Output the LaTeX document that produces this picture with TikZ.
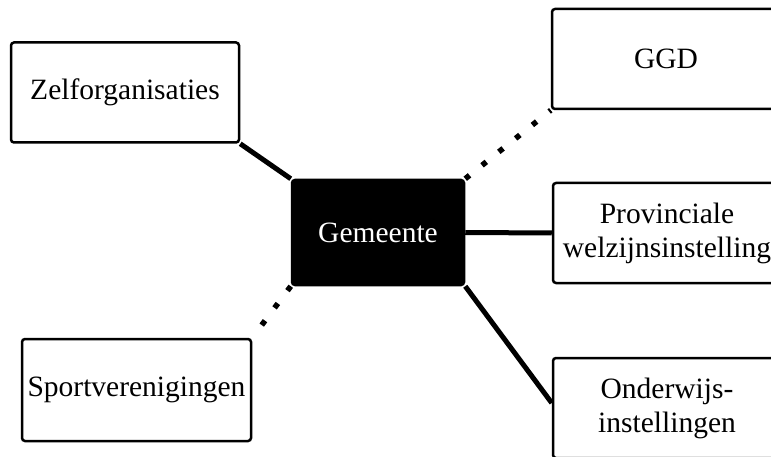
\documentclass[tikz,border=0pt]{standalone}
\usepackage{fontspec}
\setmainfont{Liberation Serif}
\usetikzlibrary{backgrounds}
\tikzset{
  box/.style={draw=black, line width=2.5pt, rounded corners=3pt, fill=white,
    minimum width=228pt, minimum height=100pt, align=center, inner sep=1pt,
    font=\fontsize{29.5}{34}\selectfont},
  hub/.style={box, fill=black, text=white, minimum width=172pt, minimum height=105pt},
  solidlink/.style={line width=5pt},
  dottedlink/.style={line width=5.5pt, dash pattern=on 5.5pt off 16pt}
}
\begin{document}
\begin{tikzpicture}[x=1pt, y=-1pt]
  \useasboundingbox (0,0) rectangle (771,457);
  \clip (0,0) rectangle (771,457);
  \node[hub] (gem) at (378,232.5) {Gemeente};
  \node[box] (zelf) at (125,92.5) {Zelforganisaties};
  \node[box] (ggd) at (666,59) {GGD};
  \node[box] (prov) at (667,233) {Provinciale\\welzijnsinstelling};
  \node[box] (ow) at (667,408) {Onderwijs-\\instellingen};
  \node[box, minimum width=229pt, minimum height=102pt] (sport) at (136.5,390) {Sportverenigingen};
  \begin{scope}[on background layer]
    \draw[solidlink] (zelf.south east) -- (gem.north west);
    \draw[dottedlink] (gem.north east) -- (ggd.south west);
    \draw[solidlink] (gem.east) -- (prov.west);
    \draw[solidlink] (gem.south east) -- ([yshift=5pt]ow.west);
    \draw[dottedlink] (gem.south west) -- (sport.north east);
  \end{scope}
\end{tikzpicture}
\end{document}
